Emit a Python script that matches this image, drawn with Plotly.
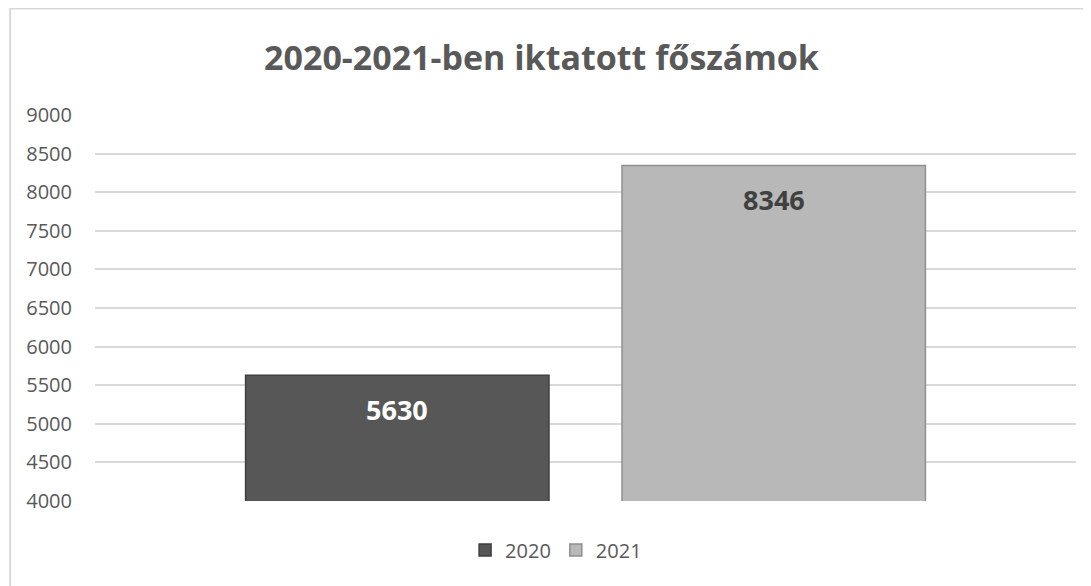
import plotly.graph_objects as go

series = ["2020", "2021"]
values = [5630, 8346]
colors = ["#575757", "#b8b8b8"]
line_colors = ["#3f3f3f", "#8f8f8f"]
label_colors = ["#ffffff", "#404040"]
title_text = "2020-2021-ben iktatott főszámok"
y_ticks = list(range(4000, 9001, 500))

fig = go.Figure()
for s, v, c, lc in zip(series, values, colors, line_colors):
    fig.add_trace(go.Bar(
        x=[s], y=[v], name=s, width=0.806,
        marker=dict(color=c, line=dict(color=lc, width=1.5)),
        hoverinfo="skip",
    ))

for i, (v, tc) in enumerate(zip(values, label_colors)):
    fig.add_annotation(x=i, y=v, text=f"<b>{v}</b>", showarrow=False,
                       yshift=-34, font=dict(size=27, color=tc, family="Open Sans"))

fig.add_shape(type="rect", xref="paper", yref="paper",
              x0=-0.0865, y0=-0.4, x1=1.2, y1=1.276,
              line=dict(color="#d9d9d9", width=2), layer="below")

fig.update_layout(
    width=1091, height=586,
    margin=dict(l=87, r=23, t=107, b=93),
    paper_bgcolor="white", plot_bgcolor="white",
    barmode="overlay",
    title=dict(text=f"<b>{title_text}</b>", x=0.489, xanchor="center",
               y=0.915, yanchor="middle", yref="container",
               font=dict(size=34, color="#595959", family="Open Sans")),
    showlegend=True,
    legend=dict(orientation="h", x=0.47, xanchor="center", y=-0.127, yanchor="middle",
                font=dict(size=20, color="#595959", family="Open Sans"),
                itemwidth=30),
    font=dict(family="Open Sans", color="#595959"),
)
fig.update_xaxes(type="category", range=[-0.803, 1.803], showticklabels=False, showgrid=False,
                 zeroline=False, showline=False, ticks="")
fig.update_yaxes(range=[4000, 9000], tickvals=y_ticks, showgrid=True,
                 gridcolor="#d9d9d9", gridwidth=1.5, zeroline=False, showline=False,
                 tickfont=dict(size=20, color="#595959", family="Open Sans"),
                 ticks="", ticklabelstandoff=22)

fig.write_html("out.html")
